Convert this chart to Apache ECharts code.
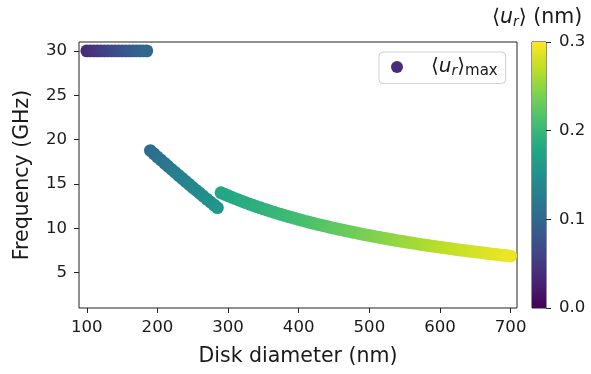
<!DOCTYPE html>
<html>
<head>
<meta charset="utf-8">
<script src="https://cdn.jsdelivr.net/npm/echarts@6/dist/echarts.min.js"></script>
<style>
  html, body { margin: 0; padding: 0; background: #fff; }
  #chart { width: 591px; height: 374px; }
</style>
</head>
<body>
<div id="chart"></div>
<script>
// Mode at 30 GHz for the small disks
const diameterLow = [100, 105, 110, 115, 120, 125, 130, 135, 140, 145, 150, 155, 160, 165, 170, 175, 180, 185];
const freqLow = [30, 30, 30, 30, 30, 30, 30, 30, 30, 30, 30, 30, 30, 30, 30, 30, 30, 30];
const urLow = [0.036, 0.040, 0.044, 0.047, 0.051, 0.055, 0.059, 0.062, 0.066, 0.070, 0.074, 0.077, 0.081, 0.085, 0.089, 0.092, 0.096, 0.100];

// Intermediate branch
const diameterMid = [190, 195, 200, 205, 210, 215, 220, 225, 230, 235, 240, 245, 250, 255, 260, 265, 270, 275, 280, 285];
const freqMid = [18.76, 18.40, 18.04, 17.69, 17.34, 16.99, 16.64, 16.30, 15.96, 15.62, 15.28, 14.94, 14.60, 14.27, 13.94, 13.61, 13.28, 12.95, 12.63, 12.31];
const urMid = [0.105, 0.108, 0.110, 0.113, 0.116, 0.118, 0.121, 0.124, 0.126, 0.129, 0.132, 0.134, 0.137, 0.140, 0.142, 0.145, 0.148, 0.150, 0.153, 0.156];

// Large-disk branch
const diameterHigh = [290, 295, 300, 305, 310, 315, 320, 325, 330, 335, 340, 345, 350, 355, 360, 365, 370, 375, 380, 385,
  390, 395, 400, 405, 410, 415, 420, 425, 430, 435, 440, 445, 450, 455, 460, 465, 470, 475, 480, 485,
  490, 495, 500, 505, 510, 515, 520, 525, 530, 535, 540, 545, 550, 555, 560, 565, 570, 575, 580, 585,
  590, 595, 600, 605, 610, 615, 620, 625, 630, 635, 640, 645, 650, 655, 660, 665, 670, 675, 680, 685,
  690, 695, 700];
const freqHigh = [14.00, 13.83, 13.66, 13.50, 13.34, 13.18, 13.03, 12.88, 12.73, 12.59, 12.45, 12.32, 12.18, 12.05, 11.92, 11.80, 11.68, 11.56, 11.44, 11.32,
  11.21, 11.10, 10.99, 10.88, 10.78, 10.67, 10.57, 10.47, 10.38, 10.28, 10.19, 10.09, 10.00, 9.91, 9.83, 9.74, 9.66, 9.57, 9.49, 9.41,
  9.33, 9.25, 9.18, 9.10, 9.03, 8.95, 8.88, 8.81, 8.74, 8.67, 8.60, 8.53, 8.47, 8.40, 8.34, 8.28, 8.21, 8.15, 8.09, 8.03,
  7.97, 7.92, 7.86, 7.80, 7.75, 7.69, 7.64, 7.58, 7.53, 7.48, 7.43, 7.38, 7.33, 7.28, 7.23, 7.18, 7.13, 7.08, 7.04, 6.99,
  6.95, 6.90, 6.86];
const urHigh = [0.177, 0.178, 0.180, 0.181, 0.182, 0.183, 0.185, 0.186, 0.187, 0.188, 0.190, 0.191, 0.192, 0.194, 0.195, 0.197, 0.198, 0.200, 0.201, 0.203,
  0.204, 0.206, 0.208, 0.209, 0.211, 0.212, 0.214, 0.216, 0.217, 0.219, 0.220, 0.222, 0.224, 0.225, 0.227, 0.228, 0.230, 0.231, 0.233, 0.234,
  0.236, 0.237, 0.239, 0.240, 0.242, 0.243, 0.245, 0.246, 0.248, 0.249, 0.251, 0.252, 0.254, 0.255, 0.256, 0.258, 0.259, 0.260, 0.262, 0.263,
  0.264, 0.266, 0.267, 0.268, 0.270, 0.271, 0.272, 0.274, 0.275, 0.276, 0.277, 0.278, 0.280, 0.281, 0.282, 0.283, 0.285, 0.286, 0.287, 0.288,
  0.290, 0.291, 0.292];

// Axis ticks
const xTicks = [100, 200, 300, 400, 500, 600, 700];
const yTicks = [5, 10, 15, 20, 25, 30];
const cbarMin = 0;
const cbarMax = 0.3;

const viridis = ['#440154', '#482475', '#414487', '#355f8d', '#2a788e', '#21918c',
                 '#22a884', '#44bf70', '#7ad151', '#bddf26', '#fde725'];

const FONT = 'DejaVu Sans';
const INK = '#1a1a1a';
const TICK_SIZE = 16.6;
const LABEL_SIZE = 20.5;

function toPoints(xs, ys, cs) {
  return xs.map((x, i) => [x, ys[i], cs[i]]);
}
const points = [].concat(
  toPoints(diameterLow, freqLow, urLow),
  toPoints(diameterMid, freqMid, urMid),
  toPoints(diameterHigh, freqHigh, urHigh)
);

const chart = echarts.init(document.getElementById('chart'), null, { renderer: 'canvas' });

const gradient = new echarts.graphic.LinearGradient(0, 1, 0, 0,
  viridis.map((c, i) => ({ offset: i / (viridis.length - 1), color: c })));

chart.setOption({
  animation: false,
  backgroundColor: '#fff',
  textStyle: { fontFamily: FONT },
  title: {
    text: '{b|⟨}{i|u}{s|r}{b|⟩ (nm)}',
    left: 487,
    top: 2,
    textStyle: {
      fontWeight: 'normal',
      rich: {
        b: { fontFamily: FONT, fontSize: 20.5, fontWeight: 'normal', color: INK },
        i: { fontFamily: FONT, fontSize: 20.5, fontWeight: 'normal', fontStyle: 'italic', color: INK },
        s: { fontFamily: FONT, fontSize: 14, fontWeight: 'normal', fontStyle: 'italic', color: INK, padding: [8, 0, 0, 0] }
      }
    }
  },
  grid: [
    { left: 79, top: 42, width: 438, height: 266, show: true, borderColor: '#222', borderWidth: 1, backgroundColor: 'transparent' },
    { left: 532, top: 42, width: 14, height: 266, show: true, borderColor: '#222', borderWidth: 1, backgroundColor: 'transparent' }
  ],
  xAxis: [
    {
      type: 'value', gridIndex: 0, min: 89, max: 709,
      name: 'Disk diameter (nm)', nameLocation: 'middle', nameGap: 38,
      nameTextStyle: { fontFamily: FONT, fontSize: LABEL_SIZE, color: INK },
      axisLine: { show: false },
      splitLine: { show: false },
      axisTick: { show: true, inside: false, length: 5, customValues: xTicks, lineStyle: { color: '#222', width: 1 } },
      axisLabel: { customValues: xTicks, fontFamily: FONT, fontSize: TICK_SIZE, color: INK, margin: 11 }
    },
    { type: 'category', gridIndex: 1, data: ['scale'], show: false }
  ],
  yAxis: [
    {
      type: 'value', gridIndex: 0, min: 1, max: 31,
      name: 'Frequency (GHz)', nameLocation: 'middle', nameGap: 46,
      nameTextStyle: { fontFamily: FONT, fontSize: LABEL_SIZE, color: INK },
      axisLine: { show: false },
      splitLine: { show: false },
      axisTick: { show: true, inside: false, length: 5, customValues: yTicks, lineStyle: { color: '#222', width: 1 } },
      axisLabel: { customValues: yTicks, fontFamily: FONT, fontSize: TICK_SIZE, color: INK, margin: 12 }
    },
    {
      type: 'value', gridIndex: 1, position: 'right', min: cbarMin, max: cbarMax, interval: 0.1,
      axisLine: { show: false },
      splitLine: { show: false },
      axisTick: { show: true, inside: false, length: 5, lineStyle: { color: '#222', width: 1 } },
      axisLabel: { fontFamily: FONT, fontSize: TICK_SIZE, color: INK, margin: 13, formatter: v => v.toFixed(1) }
    }
  ],
  visualMap: {
    type: 'continuous', show: false, min: cbarMin, max: cbarMax,
    dimension: 2, seriesIndex: 0,
    inRange: { color: viridis }
  },
  legend: {
    data: ['urmax'],
    left: 379, top: 52,
    padding: [5, 8, 5, 12],
    itemWidth: 30, itemHeight: 12, icon: 'circle',
    borderColor: '#d0d0d0', borderWidth: 1, borderRadius: 4,
    backgroundColor: '#fff',
    formatter: () => '{b|⟨}{i|u}{s|r}{b|⟩}{m|max}',
    textStyle: {
      padding: [0, 0, 0, 14],
      rich: {
        b: { fontFamily: FONT, fontSize: 20, color: INK },
        i: { fontFamily: FONT, fontSize: 20, fontStyle: 'italic', color: INK },
        s: { fontFamily: FONT, fontSize: 14, fontStyle: 'italic', color: INK, padding: [8, 0, 0, 0] },
        m: { fontFamily: FONT, fontSize: 15, color: INK, padding: [8, 0, 0, 0] }
      }
    }
  },
  series: [
    {
      name: 'urmax',
      type: 'scatter',
      xAxisIndex: 0, yAxisIndex: 0,
      symbol: 'circle',
      symbolSize: 12.8,
      itemStyle: { color: '#472c7a', opacity: 1 },
      data: points
    },
    {
      type: 'bar',
      xAxisIndex: 1, yAxisIndex: 1,
      barWidth: '100%',
      silent: true,
      itemStyle: { color: gradient },
      data: [cbarMax]
    }
  ]
});
</script>
</body>
</html>
